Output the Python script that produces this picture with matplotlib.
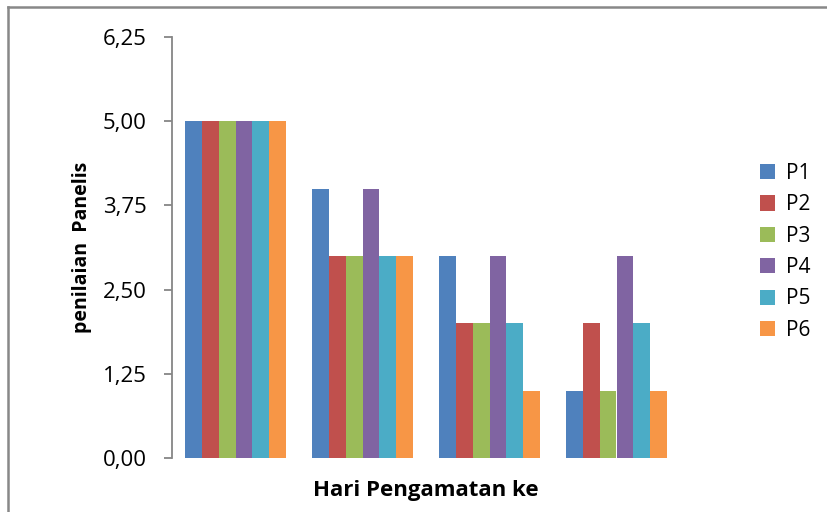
import matplotlib
matplotlib.use("Agg")
import matplotlib.pyplot as plt
import numpy as np
from matplotlib.lines import Line2D
from matplotlib.patches import Patch

days = ["1", "2", "3", "4"]
series_names = ["P1", "P2", "P3", "P4", "P5", "P6"]
p1 = [5, 4, 3, 1]
p2 = [5, 3, 2, 2]
p3 = [5, 3, 2, 1]
p4 = [5, 4, 3, 3]
p5 = [5, 3, 2, 2]
p6 = [5, 3, 1, 1]
values = [p1, p2, p3, p4, p5, p6]
colors = ["#4F81BD", "#C0504D", "#9BBB59", "#8064A2", "#4BACC6", "#F79646"]
y_ticks = [0, 1.25, 2.5, 3.75, 5.0, 6.25]
y_tick_labels = ["0,00", "1,25", "2,50", "3,75", "5,00", "6,25"]

plt.rcParams["font.family"] = ["Open Sans", "DejaVu Sans"]

W, H = 827, 512
fig = plt.figure(figsize=(W / 100, H / 100), dpi=100)
ax = fig.add_axes([172 / W, 1 - 458 / H, (680 - 172) / W, (458 - 37) / H])

n = len(series_names)
group_w = 0.8
bw = group_w / n
x = np.arange(len(days))
for i, (name, vals, c) in enumerate(zip(series_names, values, colors)):
    ax.bar(x - group_w / 2 + bw * (i + 0.5), vals, width=bw, color=c,
           edgecolor="none", label=name)

ax.set_xlim(-0.5, len(days) - 0.5)
ax.set_ylim(0, 6.25)
ax.set_yticks(y_ticks)
ax.set_yticklabels(y_tick_labels, fontsize=16)
ax.set_xticks([])

for s in ["top", "right", "bottom"]:
    ax.spines[s].set_visible(False)
ax.spines["left"].set_color("#868686")
ax.spines["left"].set_linewidth(1.3)
ax.tick_params(axis="y", length=6, width=1.3, color="#868686", pad=12)

ax.set_ylabel("penilaian  Panelis", fontsize=14, fontweight="bold", labelpad=8)
ax.set_xlabel("Hari Pengamatan ke", fontsize=16, fontweight="bold", labelpad=16)

handles = [Patch(facecolor=c, edgecolor="none") for c in colors]
leg = fig.legend(handles, series_names, loc="upper left",
                 bbox_to_anchor=(741 / W, 1 - 144 / H), frameon=False,
                 fontsize=15, handlelength=0.75, handleheight=0.75,
                 handletextpad=0.5, labelspacing=0.5)

# outer chart frame (left and top edges)
fig.add_artist(Line2D([8 / W, 8 / W], [0, 1 - 7 / H], color="#888888", lw=1.8))
fig.add_artist(Line2D([8 / W, 1], [1 - 7 / H, 1 - 7 / H], color="#888888", lw=1.8))

fig.savefig("out.png", dpi=100)
